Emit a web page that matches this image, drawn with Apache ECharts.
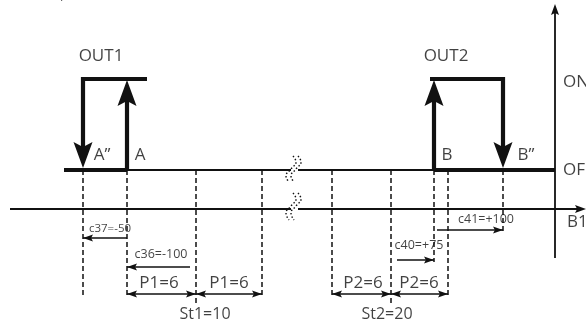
<!DOCTYPE html>
<html>
<head>
<meta charset="utf-8">
<script src="https://cdn.jsdelivr.net/npm/echarts@6/dist/echarts.min.js"></script>
<style>
    html, body { margin: 0; padding: 0; background: #fff; }
    #diagram { width: 586px; height: 329px; }
</style>
</head>
<body>
<div id="diagram"></div>
<script>
// diagram levels (y grows downward)
var onLevel = 79;
var offLevel = 170;
var axisLevel = 209;

// switching points left to right: A'', A, St1, St1+P1, St2-P2, St2, B, St2+P2, B''
var switchX = [83, 127, 196, 262, 332, 391, 434, 448, 503];
var switchDepth = [297, 297, 305, 297, 297, 305, 262, 297, 232];

// parameter arrows under the axis
var bandLabels = ['c37=-50', 'c36=-100', 'P1=6', 'P1=6', 'P2=6', 'P2=6', 'c40=+75', 'c41=+100'];
var bandFrom = [127, 190, 127, 196, 332, 391, 397, 437];
var bandTo = [83, 127, 196, 262, 391, 448, 434, 503];
var bandLevel = [238, 267, 294, 294, 294, 294, 260, 230];
var bandBoth = [false, false, true, true, true, true, false, false];
var bandTextX = [110, 161, 159, 229, 363, 419, 419, 486];
var bandTextY = [229, 254, 283, 283, 283, 283, 245, 219];
var bandTextSize = [11.5, 12.5, 17, 17, 17, 17, 12.5, 12.5];

// other texts
var names = ['OUT1', 'OUT2', 'A\u201D', 'A', 'B', 'B\u201D', 'St1=10', 'St2=20'];
var namesX = [101, 446, 102, 140, 447, 526, 205, 387];
var namesY = [56, 56, 155, 155, 155, 155, 314, 314];
var sideNames = ['ON', 'OFF', 'B1'];
var sideX = [563, 563, 567];
var sideY = [82, 170, 222];

var ink = '#111';

var heads = {
    up: 'path://M0,0L10,26L0,21L-10,26Z',
    down: 'path://M0,26L10,0L0,5L-10,0Z',
    left: 'path://M0,0L26,-10L21,0L26,10Z',
    right: 'path://M26,0L0,-10L5,0L0,10Z'
};

function head(x, y, dir, w, h) {
    var c = [x, y];
    if (dir == 'up') c = [x, y + h / 2];
    if (dir == 'down') c = [x, y - h / 2];
    if (dir == 'left') c = [x + h / 2, y];
    if (dir == 'right') c = [x - h / 2, y];
    return {
        value: c,
        symbol: heads[dir],
        symbolSize: (dir == 'up' || dir == 'down') ? [w, h] : [h, w]
    };
}

// thick output lines
var thick = [
    { coords: [[64, offLevel], [switchX[1], offLevel]] },
    { coords: [[switchX[6], offLevel], [555, offLevel]] },
    { coords: [[switchX[0], 150], [switchX[0], onLevel], [147, onLevel]] },
    { coords: [[switchX[1], offLevel], [switchX[1], 100]] },
    { coords: [[430, onLevel], [switchX[8], onLevel], [switchX[8], 150]] },
    { coords: [[switchX[6], offLevel], [switchX[6], 100]] }
];
var bigHeads = [
    head(switchX[0], 168, 'down', 19, 26),
    head(switchX[1], 80, 'up', 19, 26),
    head(switchX[6], 80, 'up', 19, 26),
    head(switchX[8], 168, 'down', 19, 26)
];

// thin lines: off line, axes
var thin = [
    { coords: [[switchX[1], offLevel], [291, offLevel]] },
    { coords: [[298, offLevel], [switchX[6], offLevel]] },
    { coords: [[10, axisLevel], [291, axisLevel]] },
    { coords: [[298, axisLevel], [580, axisLevel]] },
    { coords: [[555, 258], [555, 12]] }
];
var smallHeads = [
    head(586, axisLevel, 'right', 8, 11),
    head(555, 4, 'up', 8, 11)
];

var dashed = [];
for (var i = 0; i < switchX.length; i++) {
    dashed.push({ coords: [[switchX[i], offLevel], [switchX[i], switchDepth[i]]] });
}

var texts = [];
for (var i = 0; i < bandLabels.length; i++) {
    var dir = bandTo[i] > bandFrom[i] ? 'right' : 'left';
    var back = dir == 'right' ? 'left' : 'right';
    thin.push({ coords: [[bandFrom[i], bandLevel[i]], [bandTo[i], bandLevel[i]]], lineStyle: { width: 1.3 } });
    smallHeads.push(head(bandTo[i], bandLevel[i], dir, 7, 10));
    if (bandBoth[i]) smallHeads.push(head(bandFrom[i], bandLevel[i], back, 7, 10));
    texts.push({ name: bandLabels[i], value: [bandTextX[i], bandTextY[i]], label: { fontSize: bandTextSize[i] } });
}
for (var i = 0; i < names.length; i++) {
    texts.push({ name: names[i], value: [namesX[i], namesY[i]], label: { fontSize: i > 5 ? 16 : 17 } });
}
for (var i = 0; i < sideNames.length; i++) {
    texts.push({ name: sideNames[i], value: [sideX[i], sideY[i]], label: { fontSize: 17, align: 'left' } });
}
texts.push({ name: '1/2 = 0,5', value: [44, -5], label: { fontSize: 14 } });

// break marks
var breakA = [[298, 156], [301, 162], [296, 169], [291, 176], [294, 182]];
var breakB = [[293, 156], [296, 162], [291, 169], [286, 176], [289, 182]];
var breakC = [[298, 193], [301, 199], [296, 206], [291, 213], [294, 220]];
var breakD = [[293, 193], [296, 199], [291, 206], [286, 213], [289, 220]];

var chart = echarts.init(document.getElementById('diagram'));

function squiggle(pts) {
    return {
        type: 'line', data: pts, smooth: true, showSymbol: false, silent: true,
        lineStyle: { color: ink, width: 1.4, type: [1.5, 2] }
    };
}

chart.setOption({
    animation: false,
    grid: { left: 0, right: 0, top: 0, bottom: 0 },
    xAxis: { type: 'value', min: 0, max: 586, show: false },
    yAxis: { type: 'value', min: 0, max: 329, inverse: true, show: false },
    series: [
        {
            type: 'lines', coordinateSystem: 'cartesian2d', polyline: true,
            data: dashed,
            lineStyle: { color: ink, width: 1.5, type: [5, 3], opacity: 1 }
        },
        {
            type: 'lines', coordinateSystem: 'cartesian2d', polyline: true,
            data: thin,
            lineStyle: { color: ink, width: 1.8, opacity: 1 }
        },
        {
            type: 'lines', coordinateSystem: 'cartesian2d', polyline: true,
            data: thick,
            lineStyle: { color: ink, width: 4.2, opacity: 1, join: 'miter', cap: 'butt' }
        },
        {
            type: 'scatter', data: bigHeads.concat(smallHeads), silent: true,
            itemStyle: { color: ink, opacity: 1 }
        },
        squiggle(breakA), squiggle(breakB), squiggle(breakC), squiggle(breakD),
        {
            type: 'scatter', data: texts, symbolSize: 1, silent: true, clip: false,
            itemStyle: { color: 'rgba(0,0,0,0)' },
            label: {
                show: true, position: 'inside', formatter: '{b}',
                color: ink, fontFamily: 'Open Sans'
            }
        }
    ]
});
</script>
</body>
</html>
